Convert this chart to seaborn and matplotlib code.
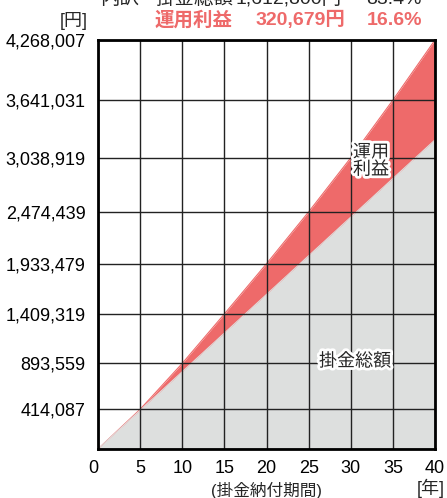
import matplotlib
matplotlib.use("Agg")
import matplotlib.pyplot as plt
import matplotlib.patheffects as pe
import seaborn as sns
import pandas as pd

years = [0, 5, 10, 15, 20, 25, 30, 35, 40]
total_value = [0, 414087, 893559, 1409319, 1933479, 2474439, 3038919, 3641031, 4268007]
principal = [0, 403200, 806400, 1209600, 1612800, 2016000, 2419200, 2822400, 3225600]
ytick_labels = ["", "414,087", "893,559", "1,409,319", "1,933,479", "2,474,439",
                "3,038,919", "3,641,031", "4,268,007"]
xtick_labels = ["0", "5", "10", "15", "20", "25", "30", "35", "40"]

df = pd.DataFrame({"year": years, "total": total_value, "principal": principal})

sns.set_theme(style="white")
FAM = ["Liberation Sans", "Noto Sans CJK JP", "DejaVu Sans"]
plt.rcParams["font.family"] = FAM

W, H = 447, 498
fig = plt.figure(figsize=(W / 100, H / 100), dpi=100)
ax = fig.add_axes([98 / W, (H - 449) / H, (435 - 98) / W, (449 - 40) / H])

RED = "#ee6a6a"
GRAY = "#dddfde"

ax.fill_between(df["year"], df["principal"], df["total"], color=RED, lw=0, zorder=1)
ax.fill_between(df["year"], 0, df["principal"], color=GRAY, lw=0, zorder=1)
sns.lineplot(data=df, x="year", y="total", ax=ax, color=RED, lw=0.8, zorder=1)
sns.lineplot(data=df, x="year", y="principal", ax=ax, color=GRAY, lw=0.8, zorder=1)

ax.set_xlim(0, 40)
ax.set_ylim(0, total_value[-1])
ax.set_xticks(years)
ax.set_xticklabels(xtick_labels)
ax.set_yticks(total_value)
ax.set_yticklabels(ytick_labels)
ax.set_xlabel("")
ax.set_ylabel("")
ax.grid(True, color="#222222", lw=1.0, zorder=2)
ax.set_axisbelow(False)
for sp in ax.spines.values():
    sp.set_visible(True)
    sp.set_color("black")
    sp.set_linewidth(2.0)
    sp.set_zorder(3)
ax.tick_params(axis="both", length=0, labelsize=13, colors="black")
ax.tick_params(axis="y", pad=9)
ax.tick_params(axis="x", pad=8)
ax.get_xticklabels()[0].set_ha("right")

stroke = [pe.withStroke(linewidth=4, foreground="white")]
ax.text(32.4, 3.0e6, "運用\n利益", ha="center", va="center", fontsize=13,
        linespacing=1.0, path_effects=stroke, zorder=4, family=FAM)
ax.text(30.5, 0.91e6, "掛金総額", ha="center", va="center", fontsize=13,
        path_effects=stroke, zorder=4, family=FAM)

def ft(x, y, s, **kw):
    fig.text(x / W, 1 - y / H, s, family=FAM, **kw)

ft(88, 21, "[円]", ha="right", va="center", fontsize=13)
ft(266, 490, "(掛金納付期間)", ha="center", va="center", fontsize=12)
ft(431, 488, "[年]", ha="center", va="center", fontsize=13)

# header lines (top line is partly cut off, as in the original)
ft(100, -1, "内訳", ha="left", va="center", fontsize=14)
ft(155, -1, "掛金総額", ha="left", va="center", fontsize=14)
ft(342, -1, "1,612,800円", ha="right", va="center", fontsize=14)
ft(422, -1, "83.4%", ha="right", va="center", fontsize=14)
ft(155, 20, "運用利益", ha="left", va="center", fontsize=14, color=RED, weight="bold")
ft(345, 20, "320,679円", ha="right", va="center", fontsize=14, color=RED, weight="bold")
ft(422, 20, "16.6%", ha="right", va="center", fontsize=14, color=RED, weight="bold")

fig.savefig("out.png", dpi=100)
